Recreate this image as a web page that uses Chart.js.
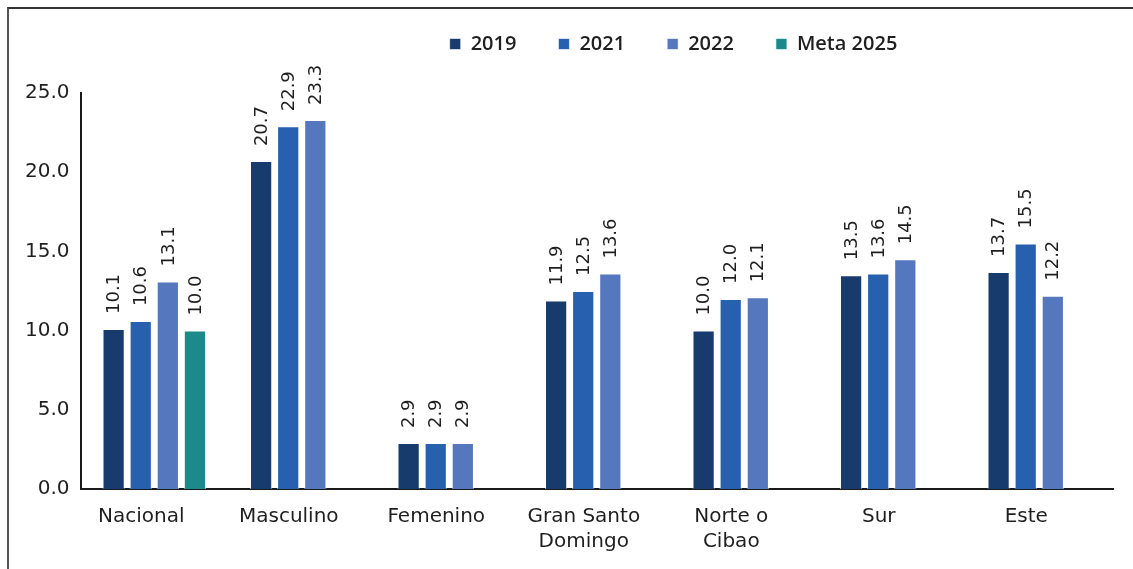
<!DOCTYPE html>
<html>
<head>
<meta charset="utf-8">
<script src="https://cdn.jsdelivr.net/npm/chart.js@4.4.0/dist/chart.umd.min.js"></script>
<style>
  html, body { margin: 0; padding: 0; background: #fff; }
  #wrap { position: absolute; left: 7px; top: 7px; width: 1126px; height: 562px;
          border-left: 2px solid #555; border-top: 2px solid #333; box-sizing: border-box; }
  #chart { position: absolute; left: 0; top: 0; }
</style>
</head>
<body>
<div id="wrap"></div>
<canvas id="chart" width="1133" height="569"></canvas>
<script>
// categories and series
const categories = ['Nacional', 'Masculino', 'Femenino', ['Gran Santo', 'Domingo'], ['Norte o', 'Cibao'], 'Sur', 'Este'];
const values2019 = [10.1, 20.7, 2.9, 11.9, 10.0, 13.5, 13.7];
const values2021 = [10.6, 22.9, 2.9, 12.5, 12.0, 13.6, 15.5];
const values2022 = [13.1, 23.3, 2.9, 13.6, 12.1, 14.5, 12.2];
const valuesMeta = [10.0, null, null, null, null, null, null];
const yTicks = [0, 5, 10, 15, 20, 25];

const fontFamily = '"DejaVu Sans", sans-serif';

// rotated value labels above each bar
const barLabels = {
    id: 'barLabels',
    afterDatasetsDraw(chart) {
        const ctx = chart.ctx;
        ctx.save();
        ctx.fillStyle = '#1f1f1f';
        ctx.font = '18px ' + fontFamily;
        ctx.textAlign = 'left';
        ctx.textBaseline = 'middle';
        chart.data.datasets.forEach((ds, i) => {
            const meta = chart.getDatasetMeta(i);
            meta.data.forEach((bar, j) => {
                const v = ds.data[j];
                if (v === null) return;
                ctx.save();
                ctx.translate(bar.x, bar.y - 15);
                ctx.rotate(-Math.PI / 2);
                ctx.fillText(v.toFixed(1), 0, 1);
                ctx.restore();
            });
        });
        ctx.restore();
    }
};

// legend sits right of centre and higher up in the original
const legendShift = {
    id: 'legendShift',
    afterLayout(chart) {
        const lg = chart.legend;
        lg.left += 110;
        lg.right += 110;
        lg.top -= 29;
        lg.bottom -= 29;
    }
};

new Chart(document.getElementById('chart'), {
    type: 'bar',
    data: {
        labels: categories,
        datasets: [
            { label: '2019', data: values2019, backgroundColor: '#173b6c' },
            { label: '2021', data: values2021, backgroundColor: '#2660ae' },
            { label: '2022', data: values2022, backgroundColor: '#5577bd' },
            { label: 'Meta 2025', data: valuesMeta, backgroundColor: '#1a8a8a' }
        ].map(d => Object.assign(d, {
            borderColor: 'rgba(255,255,255,0.6)',
            borderWidth: 1,
            categoryPercentage: 0.735,
            barPercentage: 0.82
        }))
    },
    options: {
        responsive: false,
        animation: false,
        layout: { padding: { left: 14, right: 20, top: 21, bottom: 0 } },
        scales: {
            x: {
                grid: { display: false, drawTicks: false },
                border: { color: '#1a1a1a', width: 2 },
                ticks: {
                    color: '#1f1f1f',
                    font: { family: fontFamily, size: 20, lineHeight: 1.25 },
                    padding: 15,
                    labelOffset: -13,
                    maxRotation: 0,
                    autoSkip: false
                }
            },
            y: {
                min: 0,
                max: 25,
                afterBuildTicks(axis) { axis.ticks = yTicks.map(v => ({ value: v })); },
                grid: { display: false, drawTicks: false },
                border: { color: '#1a1a1a', width: 2 },
                ticks: {
                    color: '#1f1f1f',
                    font: { family: fontFamily, size: 20 },
                    padding: 11,
                    callback: v => v.toFixed(1)
                }
            }
        },
        plugins: {
            legend: {
                display: true,
                position: 'top',
                labels: {
                    color: '#1f1f1f',
                    font: { family: '"Open Sans", sans-serif', size: 20, weight: '600' },
                    boxWidth: 11,
                    boxHeight: 11,
                    padding: 42
                }
            },
            tooltip: { enabled: false }
        }
    },
    plugins: [barLabels, legendShift]
});
</script>
</body>
</html>
